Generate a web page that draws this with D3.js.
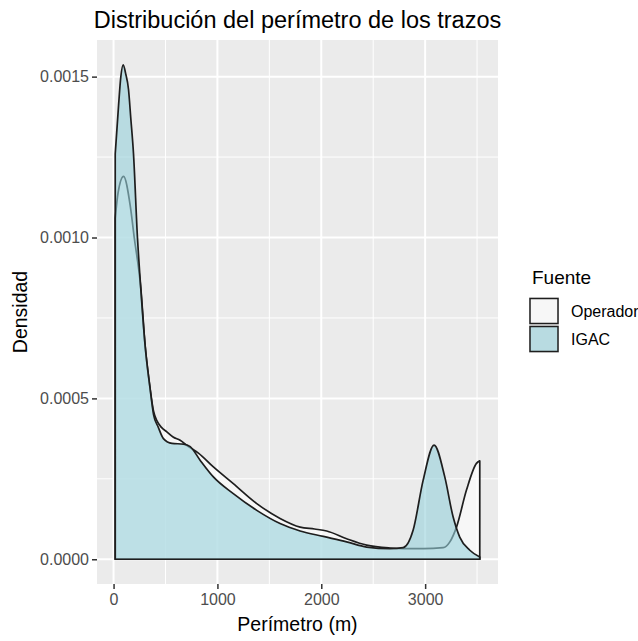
<!DOCTYPE html>
<html>
<head>
<meta charset="utf-8">
<script src="https://cdn.jsdelivr.net/npm/d3@7"></script>
<style>
  html, body { margin: 0; padding: 0; background: #ffffff; }
  svg { display: block; font-family: "Liberation Sans", Arial, Helvetica, sans-serif; }
</style>
</head>
<body>
<svg id="chart" width="638" height="641"></svg>
<script>
// Estimated kernel density of stroke perimeter (m), one curve per source
const operadorPerimetro = [16, 44, 96, 160, 199, 263, 305, 352, 385, 418, 461, 513, 573, 641, 721, 817, 961, 1153, 1379, 1603, 1796, 1935, 2052, 2244, 2437, 2661, 2789, 2981, 3173, 3238, 3302, 3398, 3494, 3526];
const operadorDensidad  = [0.00106, 0.00114, 0.00119, 0.00110, 0.00100, 0.00084, 0.00066, 0.00053, 0.00046, 0.00043, 0.00041, 0.000396, 0.00038, 0.00037, 0.00035, 0.00033, 0.000287, 0.000235, 0.000173, 0.000127, 0.000100, 0.000094, 0.000088, 0.000064, 0.000044, 0.000035, 0.000033, 0.000033, 0.000036, 0.000054, 0.000100, 0.000215, 0.000298, 0.000306];

const igacPerimetro = [16, 48, 70, 93, 116, 144, 166, 192, 230, 256, 305, 352, 385, 431, 480, 562, 673, 738, 833, 961, 1153, 1379, 1603, 1796, 2019, 2244, 2437, 2661, 2789, 2884, 2981, 3086, 3189, 3269, 3333, 3430, 3526];
const igacDensidad  = [0.00126, 0.00141, 0.00150, 0.001537, 0.00151, 0.00146, 0.00137, 0.00126, 0.00100, 0.00087, 0.00066, 0.00053, 0.00045, 0.00041, 0.000375, 0.00036, 0.000358, 0.00035, 0.000308, 0.000256, 0.000204, 0.000152, 0.000111, 0.000088, 0.000071, 0.000054, 0.000038, 0.000033, 0.000036, 0.000090, 0.000246, 0.000355, 0.000256, 0.000132, 0.000069, 0.000028, 0.000007];

const fuentes = ["Operador", "IGAC"];
const fuenteColores = ["#ffffff", "#96d0da"];
const fillAlpha = 0.6;

const xTicks = [0, 1000, 2000, 3000];
const xMinor = [500, 1500, 2500, 3500];
const yTicks = [0, 0.0005, 0.0010, 0.0015];
const yMinor = [0.00025, 0.00075, 0.00125];

const titulo = "Distribución del perímetro de los trazos";
const xTitulo = "Perímetro (m)";
const yTitulo = "Densidad";
const leyendaTitulo = "Fuente";

const series = [
  { name: fuentes[0], xs: operadorPerimetro, ys: operadorDensidad, fill: fuenteColores[0] },
  { name: fuentes[1], xs: igacPerimetro, ys: igacDensidad, fill: fuenteColores[1] }
];

const svg = d3.select("#chart");
const panel = { left: 97, right: 498, top: 40, bottom: 584 };

// ggplot-style 5% expansion of the data range
const allX = operadorPerimetro.concat(igacPerimetro);
const allY = operadorDensidad.concat(igacDensidad);
const xExt = d3.extent(allX);
const yMax = d3.max(allY);
const xPad = (xExt[1] - xExt[0]) * 0.05;
const yPad = yMax * 0.05;

const x = d3.scaleLinear().domain([xExt[0] - xPad, xExt[1] + xPad]).range([panel.left, panel.right]);
const y = d3.scaleLinear().domain([-yPad, yMax + yPad]).range([panel.bottom, panel.top]);

// panel background and grid
svg.append("rect")
  .attr("x", panel.left).attr("y", panel.top)
  .attr("width", panel.right - panel.left).attr("height", panel.bottom - panel.top)
  .attr("fill", "#ebebeb");

const grid = svg.append("g");
grid.selectAll(".xminor").data(xMinor).join("line")
  .attr("x1", d => x(d)).attr("x2", d => x(d))
  .attr("y1", panel.top).attr("y2", panel.bottom)
  .attr("stroke", "#ffffff").attr("stroke-width", 1);
grid.selectAll(".yminor").data(yMinor).join("line")
  .attr("y1", d => y(d)).attr("y2", d => y(d))
  .attr("x1", panel.left).attr("x2", panel.right)
  .attr("stroke", "#ffffff").attr("stroke-width", 1);
grid.selectAll(".xmajor").data(xTicks).join("line")
  .attr("x1", d => x(d)).attr("x2", d => x(d))
  .attr("y1", panel.top).attr("y2", panel.bottom)
  .attr("stroke", "#ffffff").attr("stroke-width", 2);
grid.selectAll(".ymajor").data(yTicks).join("line")
  .attr("y1", d => y(d)).attr("y2", d => y(d))
  .attr("x1", panel.left).attr("x2", panel.right)
  .attr("stroke", "#ffffff").attr("stroke-width", 2);

// density areas, outlined all round
const area = d3.area()
  .x(d => x(d[0]))
  .y0(y(0))
  .y1(d => y(d[1]))
  .curve(d3.curveMonotoneX);

series.forEach(s => {
  const pts = s.xs.map((v, i) => [v, s.ys[i]]);
  svg.append("path")
    .attr("d", area(pts))
    .attr("fill", s.fill)
    .attr("fill-opacity", fillAlpha)
    .attr("stroke", "#1e1e1e")
    .attr("stroke-width", 1.7)
    .attr("stroke-linejoin", "round");
});

// axes
const xAxis = d3.axisBottom(x).tickValues(xTicks).tickFormat(d3.format("d")).tickSize(5).tickPadding(5);
const gx = svg.append("g").attr("transform", `translate(0,${panel.bottom})`).call(xAxis);
gx.select(".domain").remove();
gx.selectAll(".tick line").attr("stroke", "#333333").attr("stroke-width", 1.5);
gx.selectAll(".tick text").attr("fill", "#4d4d4d").style("font-size", "16px")
  .style("font-family", "'Liberation Sans', Arial, sans-serif");

const yAxis = d3.axisLeft(y).tickValues(yTicks).tickFormat(d3.format(".4f")).tickSize(5).tickPadding(3);
const gy = svg.append("g").attr("transform", `translate(${panel.left},0)`).call(yAxis);
gy.select(".domain").remove();
gy.selectAll(".tick line").attr("stroke", "#333333").attr("stroke-width", 1.5);
gy.selectAll(".tick text").attr("fill", "#4d4d4d").style("font-size", "16px")
  .style("font-family", "'Liberation Sans', Arial, sans-serif");

// titles
svg.append("text")
  .attr("x", (panel.left + panel.right) / 2).attr("y", 28)
  .attr("text-anchor", "middle").attr("fill", "#000000")
  .style("font-size", "23.5px").text(titulo);

svg.append("text")
  .attr("x", (panel.left + panel.right) / 2).attr("y", 631)
  .attr("text-anchor", "middle").attr("fill", "#000000")
  .style("font-size", "19.5px").text(xTitulo);

svg.append("text")
  .attr("transform", `translate(27,${(panel.top + panel.bottom) / 2}) rotate(-90)`)
  .attr("text-anchor", "middle").attr("fill", "#000000")
  .style("font-size", "19.5px").text(yTitulo);

// legend
const legend = svg.append("g").attr("transform", "translate(529,0)");
legend.append("text").attr("x", 3).attr("y", 284).attr("fill", "#000000")
  .style("font-size", "19px").text(leyendaTitulo);

const keyW = 30;
const keyH = 28;
const keyTop = 297;
series.forEach((s, i) => {
  const ky = keyTop + i * keyH;
  legend.append("rect").attr("x", 0).attr("y", ky).attr("width", keyW).attr("height", keyH)
    .attr("fill", "#ebebeb");
  legend.append("rect").attr("x", 1).attr("y", ky + 1.5).attr("width", keyW - 2).attr("height", keyH - 3)
    .attr("fill", s.fill).attr("fill-opacity", fillAlpha)
    .attr("stroke", "#1e1e1e").attr("stroke-width", 1.5);
  legend.append("text").attr("x", keyW + 12).attr("y", ky + keyH / 2)
    .attr("dy", "0.35em").attr("fill", "#000000")
    .style("font-size", "16px").text(s.name);
});
</script>
</body>
</html>
